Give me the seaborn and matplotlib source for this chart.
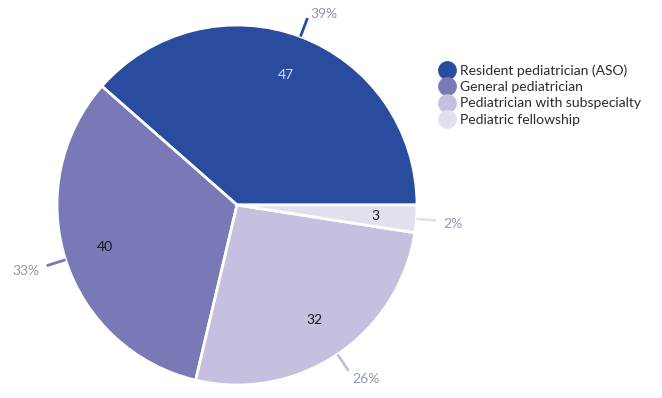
import numpy as np
import matplotlib
matplotlib.use("Agg")
import matplotlib.pyplot as plt
from matplotlib.lines import Line2D
import seaborn as sns

# Survey responses by pediatric role
categories = [
    "Resident pediatrician (ASO)",
    "General pediatrician",
    "Pediatrician with subspecialty",
    "Pediatric fellowship",
]
counts = [47, 40, 32, 3]
colors = ["#2a4c9f", "#7a79b8", "#c7bfdf", "#e4dfef"]
inner_text_colors = ["#d6d8ee", "#1a1a1a", "#1a1a1a", "#1a1a1a"]

sns.set_theme(style="white")
plt.rcParams["font.family"] = ["Lato", "DejaVu Sans"]

fig = plt.figure(figsize=(6.62, 3.98), dpi=100)
W, H = 662, 398
cx, cy, r = 237, 193, 180
ax = fig.add_axes([(cx - r) / W, (cy - r) / H, 2 * r / W, 2 * r / H])

wedges, texts = ax.pie(
    counts,
    colors=colors,
    startangle=0,
    radius=1.0,
    labels=[str(c) for c in counts],
    labeldistance=0.77,
    wedgeprops=dict(edgecolor="white", linewidth=2),
    textprops=dict(fontsize=10, ha="center", va="center"),
)
for t, c in zip(texts, inner_text_colors):
    t.set_color(c)
    t.set_horizontalalignment("center")

total = sum(counts)
pct_color = "#9296b2"
for w, c, col in zip(wedges, counts, colors):
    ang = np.deg2rad((w.theta1 + w.theta2) / 2)
    ca, sa = np.cos(ang), np.sin(ang)
    ax.plot([1.0 * ca, 1.11 * ca], [1.0 * sa, 1.11 * sa], color=col,
            lw=2, solid_capstyle="butt", clip_on=False)
    ha = "left" if ca >= 0 else "right"
    ax.text(1.15 * ca, 1.15 * sa - 0.015, f"{round(100 * c / total)}%",
            ha=ha, va="center", fontsize=10, color=pct_color)

ax.set_xlim(-1, 1)
ax.set_ylim(-1, 1)
ax.set_aspect("equal")
ax.axis("off")

handles = [Line2D([0], [0], marker="o", linestyle="none", markersize=12.5,
                  markerfacecolor=col, markeredgecolor=col) for col in colors]
leg = fig.legend(handles, categories, loc="upper left",
                 bbox_to_anchor=(433 / W, 1 - 59 / H), frameon=False,
                 fontsize=10, handletextpad=0.35, labelspacing=0.3,
                 handlelength=1.2, borderaxespad=0)
for t in leg.get_texts():
    t.set_color("#2b2b2b")

fig.savefig("out.png", dpi=100)
